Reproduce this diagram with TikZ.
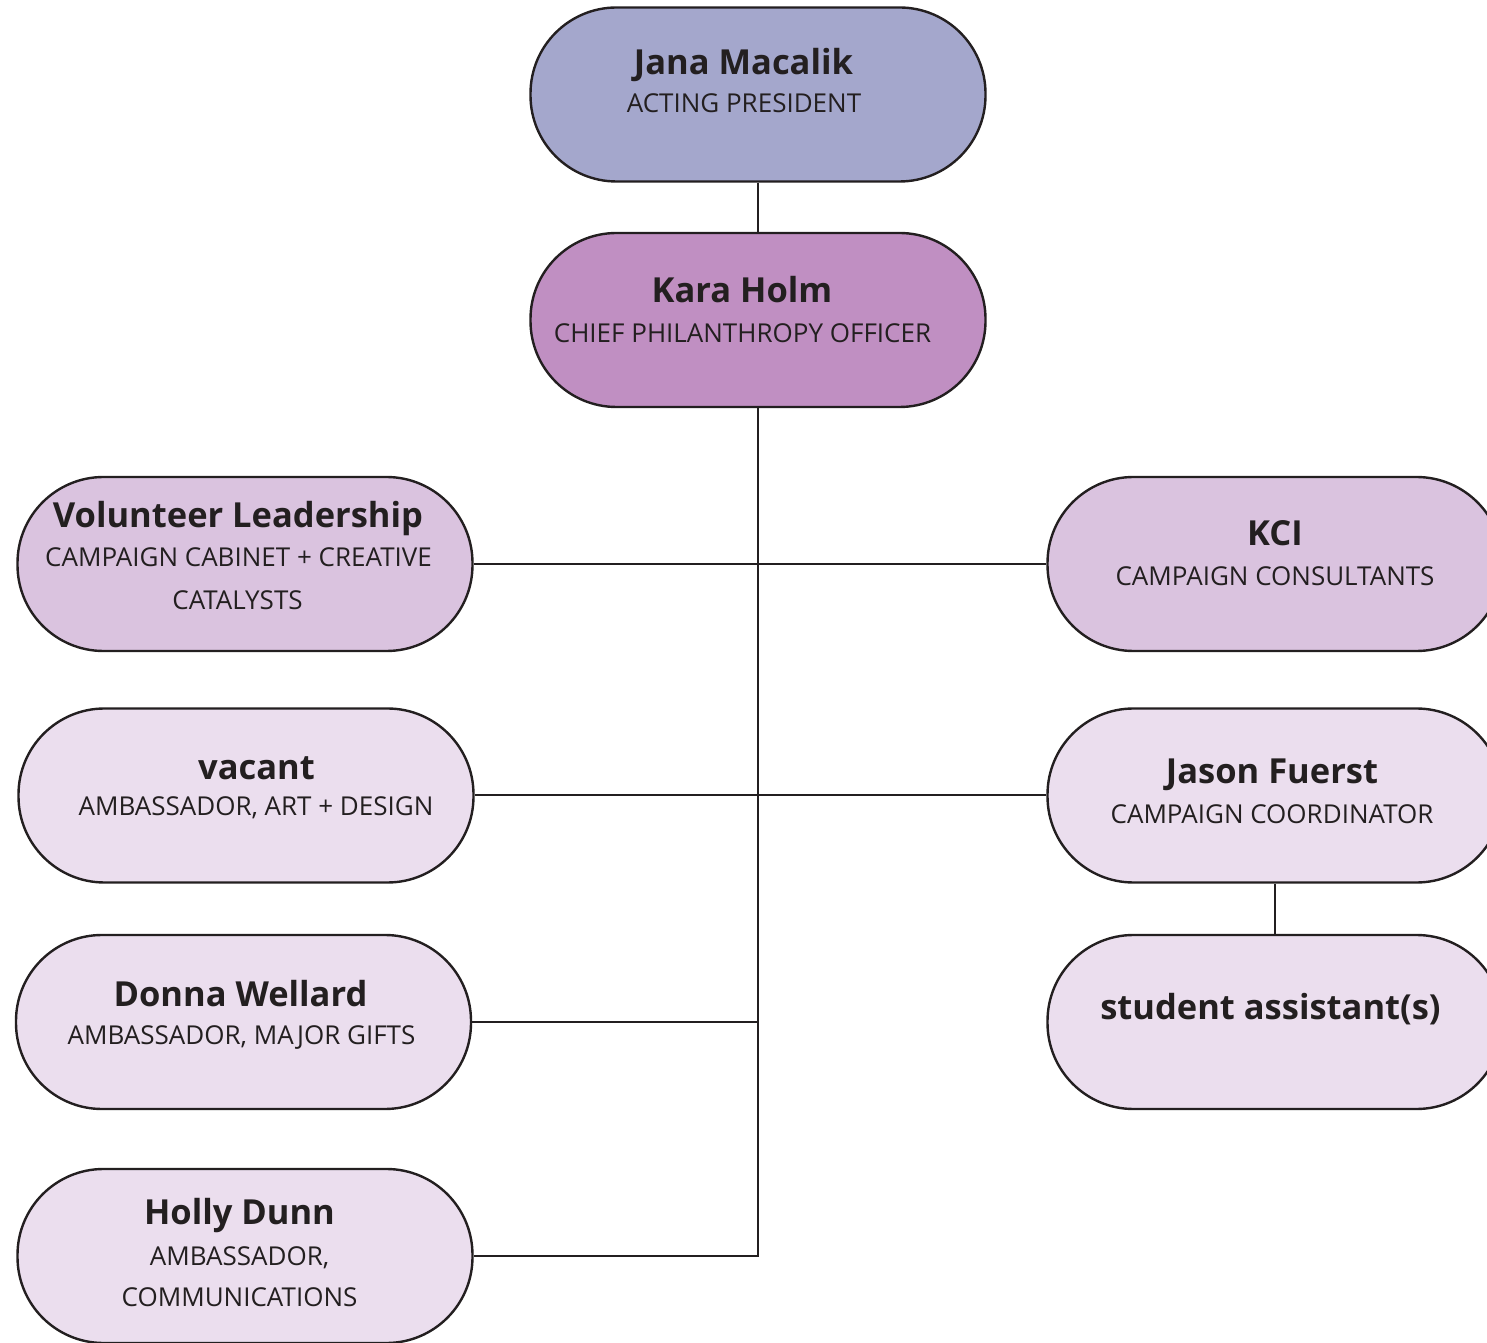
\documentclass[tikz,border=0pt]{standalone}
\usepackage{fontspec}
\setmainfont{Open Sans}
\definecolor{ink}{HTML}{231F20}
\definecolor{cPres}{HTML}{A4A7CC}
\definecolor{cChief}{HTML}{C08FC2}
\definecolor{cMid}{HTML}{DAC3DF}
\definecolor{cLight}{HTML}{EBDEEE}
\begin{document}
\begin{tikzpicture}[x=1pt,y=1pt,
  pill/.style={draw=ink, line width=2.4pt, rectangle, rounded corners=86pt,
    minimum width=455pt, minimum height=174pt, inner sep=0pt},
  nm/.style={anchor=base, text=ink, inner sep=0pt, font=\fontsize{34.5}{40}\selectfont\bfseries},
  sb/.style={anchor=base, text=ink, inner sep=0pt, font=\fontsize{26}{30}\selectfont},
  conn/.style={draw=ink, line width=2pt}]
\useasboundingbox (0,0) rectangle (1487,1342);
% boxes
\node[pill, fill=cPres]  (jana)    at (758,1247.5) {};
\node[pill, fill=cChief] (kara)    at (758,1022) {};
\node[pill, fill=cMid]   (vol)     at (245,778) {};
\node[pill, fill=cMid]   (kci)     at (1275,778) {};
\node[pill, fill=cLight] (vacant)  at (246,546.5) {};
\node[pill, fill=cLight] (jason)   at (1275,546.5) {};
\node[pill, fill=cLight] (donna)   at (243.5,320) {};
\node[pill, fill=cLight] (student) at (1275,320) {};
\node[pill, fill=cLight] (holly)   at (245,86) {};
% connectors
\draw[conn] (jana.south) -- (kara.north);
\draw[conn] (kara.south) -- (kara.south |- holly.east) -- (holly.east);
\draw[conn] (vol.east) -- (kci.west);
\draw[conn] (vacant.east) -- (jason.west);
\draw[conn] (donna.east) -- (donna.east -| kara.south);
\draw[conn] (jason.south) -- (student.north);
% texts
\node[nm] (janaN) at (743.5,1267) {Jana Macalik};
\node[sb] (janaS) at (744,1229) {ACTING PRESIDENT};
\node[nm] (karaN) at (742,1039) {Kara Holm};
\node[sb] (karaS) at (742.5,999) {CHIEF PHILANTHROPY OFFICER};
\node[nm] (volN) at (238,814) {Volunteer Leadership};
\node[sb] (volS1) at (238.5,775) {CAMPAIGN CABINET + CREATIVE};
\node[sb] (volS2) at (237.5,732) {CATALYSTS};
\node[nm] (kciN) at (1275,796) {KCI};
\node[sb] (kciS) at (1275,756) {CAMPAIGN CONSULTANTS};
\node[nm] (vacN) at (256.5,562) {vacant};
\node[sb] (vacS) at (256,526) {AMBASSADOR, ART + DESIGN};
\node[nm] (jasN) at (1272,558) {Jason Fuerst};
\node[sb] (jasS) at (1272,518) {CAMPAIGN COORDINATOR};
\node[nm] (donN) at (240.5,336) {Donna Wellard};
\node[sb] (donS) at (241.5,298) {AMBASSADOR, MAJOR GIFTS};
\node[nm] (stuN) at (1270.5,323) {student assistant(s)};
\node[nm] (holN) at (239.5,118) {Holly Dunn};
\node[sb] (holS1) at (239.5,77) {AMBASSADOR,};
\node[sb] (holS2) at (239.5,36) {COMMUNICATIONS};
\end{tikzpicture}
\end{document}
